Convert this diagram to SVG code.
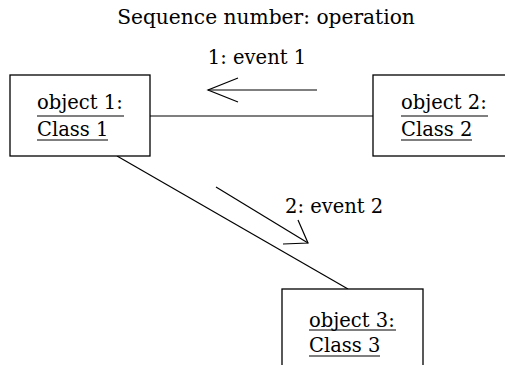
<svg xmlns="http://www.w3.org/2000/svg" width="505" height="365" viewBox="0 0 505 365">
<style>
text{font-family:"DejaVu Serif","Liberation Serif",serif;font-size:19.5px;fill:#000}
.title{font-size:20.2px}
.box{fill:#fff;stroke:#000;stroke-width:1.3}
.ln{fill:none;stroke:#000;stroke-width:1.2}
.ul{stroke:#000;stroke-width:1.2}
</style>
<rect width="505" height="365" fill="#fff"/>
<text class="title" x="266" y="24" text-anchor="middle">Sequence number: operation</text>
<g id="connectors">
<line class="ln" x1="150" y1="116" x2="373" y2="116"/>
<line class="ln" x1="117" y1="156" x2="348" y2="289"/>
<g id="msg1">
<line class="ln" x1="208" y1="90" x2="317" y2="90"/>
<polyline class="ln" points="238,78 208,90 238,102"/>
<text x="257" y="64" text-anchor="middle">1: event 1</text>
</g>
<g id="msg2">
<line class="ln" x1="216" y1="187" x2="308" y2="243"/>
<polyline class="ln" points="298,220 308,243 283,244"/>
<text x="285" y="213">2: event 2</text>
</g>
</g>
<g id="object1">
<rect class="box" x="10" y="75" width="140" height="81"/>
<text x="37" y="109">object 1:</text>
<line class="ul" x1="37" y1="116" x2="124" y2="116"/>
<text x="37" y="136">Class 1</text>
<line class="ul" x1="37" y1="140" x2="108" y2="140"/>
</g>
<g id="object2">
<rect class="box" x="373" y="75" width="140" height="81"/>
<text x="401" y="109">object 2:</text>
<line class="ul" x1="401" y1="116" x2="488" y2="116"/>
<text x="401" y="136">Class 2</text>
<line class="ul" x1="401" y1="140" x2="472" y2="140"/>
</g>
<g id="object3">
<rect class="box" x="282" y="289" width="141" height="85"/>
<text x="309" y="327">object 3:</text>
<line class="ul" x1="309" y1="330" x2="396" y2="330"/>
<text x="309" y="352">Class 3</text>
<line class="ul" x1="309" y1="356" x2="380" y2="356"/>
</g>
</svg>
